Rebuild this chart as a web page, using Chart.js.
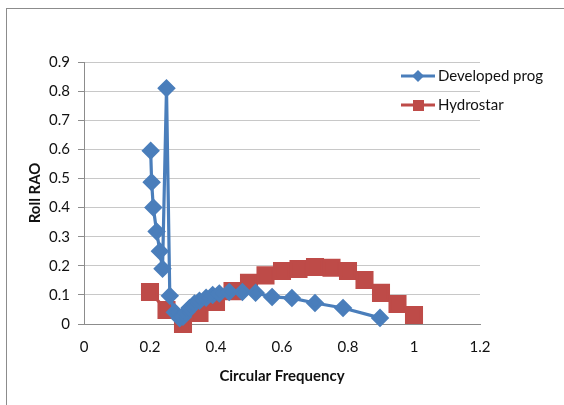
<!DOCTYPE html>
<html>
<head>
<meta charset="utf-8">
<script src="https://cdn.jsdelivr.net/npm/chart.js@4/dist/chart.umd.min.js"></script>
<style>
  body { margin: 0; background: #fff; }
  #wrap { position: relative; width: 564px; height: 405px; overflow: hidden; }
  #frame { position: absolute; left: 6px; top: 8px; width: 700px; height: 600px;
           border-left: 1px solid #8c8c8c; border-top: 1px solid #8c8c8c; }
  canvas { position: absolute; left: 0; top: 0; }
</style>
</head>
<body>
<div id="wrap">
  <div id="frame"></div>
  <canvas id="rao" width="564" height="405"></canvas>
</div>
<script>
// Developed prog
const devX = [0.202, 0.205, 0.21, 0.22, 0.23, 0.238, 0.25, 0.26, 0.275, 0.29, 0.30, 0.31, 0.32, 0.335, 0.35, 0.37, 0.39, 0.41, 0.44, 0.48, 0.52, 0.57, 0.63, 0.70, 0.785, 0.897];
const devY = [0.595, 0.487, 0.40, 0.318, 0.25, 0.19, 0.81, 0.097, 0.04, 0.02, 0.025, 0.04, 0.055, 0.07, 0.08, 0.09, 0.10, 0.105, 0.11, 0.11, 0.107, 0.093, 0.089, 0.072, 0.055, 0.021];

// Hydrostar
const hydX = [0.2, 0.25, 0.3, 0.35, 0.4, 0.45, 0.5, 0.55, 0.6, 0.65, 0.7, 0.75, 0.8, 0.85, 0.9, 0.95, 1.0];
const hydY = [0.11, 0.048, 0.0, 0.038, 0.076, 0.113, 0.142, 0.167, 0.182, 0.189, 0.196, 0.193, 0.182, 0.151, 0.107, 0.069, 0.031];

const seriesNames = ['Developed prog', 'Hydrostar'];
const FONT = 'Lato, "Liberation Sans", sans-serif';

const toPoints = (xs, ys) => xs.map((x, i) => ({ x: x, y: ys[i] }));

// legend drawn inside the plot like the original
const floatLegend = {
  id: 'floatLegend',
  afterDraw(chart) {
    const ctx = chart.ctx;
    const rows = [76, 105];
    chart.data.datasets.forEach((ds, i) => {
      const y = rows[i];
      ctx.save();
      ctx.strokeStyle = ds.borderColor;
      ctx.lineWidth = 3;
      ctx.beginPath();
      ctx.moveTo(401, y);
      ctx.lineTo(435, y);
      ctx.stroke();
      ctx.fillStyle = ds.backgroundColor;
      ctx.beginPath();
      if (ds.pointStyle === 'rectRot') {
        ctx.moveTo(418, y - 6); ctx.lineTo(424, y); ctx.lineTo(418, y + 6); ctx.lineTo(412, y);
      } else {
        ctx.rect(413, y - 5, 11, 11);
      }
      ctx.fill();
      ctx.fillStyle = '#111';
      ctx.font = '15px ' + FONT;
      ctx.textBaseline = 'middle';
      ctx.fillText(ds.label, 438, y);
      ctx.restore();
    });
  }
};

new Chart(document.getElementById('rao'), {
  type: 'line',
  data: {
    datasets: [{
      label: seriesNames[0],
      data: toPoints(devX, devY),
      borderColor: '#4A7EBB',
      backgroundColor: '#4A7EBB',
      borderWidth: 3.2,
      pointStyle: 'rectRot',
      pointRadius: 7,
      pointHoverRadius: 7,
      tension: 0,
      clip: false
    }, {
      label: seriesNames[1],
      data: toPoints(hydX, hydY),
      borderColor: '#BE4B48',
      backgroundColor: '#BE4B48',
      borderWidth: 3.2,
      pointStyle: 'rect',
      pointRadius: 10.5,
      pointHoverRadius: 10.5,
      tension: 0,
      clip: false
    }]
  },
  options: {
    responsive: false,
    animation: false,
    events: [],
    layout: { padding: { left: 0, top: 62, right: 84, bottom: 0 } },
    plugins: { legend: { display: false }, tooltip: { enabled: false } },
    scales: {
      x: {
        type: 'linear',
        min: 0, max: 1.2,
        afterFit: (s) => { s.height = 81; },
        ticks: { stepSize: 0.2, color: '#111', padding: 14, font: { family: FONT, size: 15 }, maxRotation: 0,
                 callback: (v) => +v.toFixed(1) + '' },
        grid: { display: false, drawTicks: false },
        border: { display: true, color: '#8c8c8c', width: 1 },
        title: { display: true, text: 'Circular Frequency', color: '#111',
                 font: { family: FONT, size: 15, weight: 'bold' }, padding: { top: 0, bottom: 20 } }
      },
      y: {
        min: 0, max: 0.9,
        afterFit: (s) => { s.width = 84; },
        ticks: { stepSize: 0.1, color: '#111', padding: 8, font: { family: FONT, size: 15 },
                 callback: (v) => +v.toFixed(1) + '' },
        grid: { color: '#c8c8c8', tickLength: 6, tickColor: '#8c8c8c' },
        border: { display: true, color: '#8c8c8c', width: 1 },
        title: { display: true, text: 'Roll RAO', color: '#111',
                 font: { family: FONT, size: 15, weight: 'bold' }, padding: { top: 26, bottom: 0 } }
      }
    }
  },
  plugins: [floatLegend]
});
</script>
</body>
</html>
